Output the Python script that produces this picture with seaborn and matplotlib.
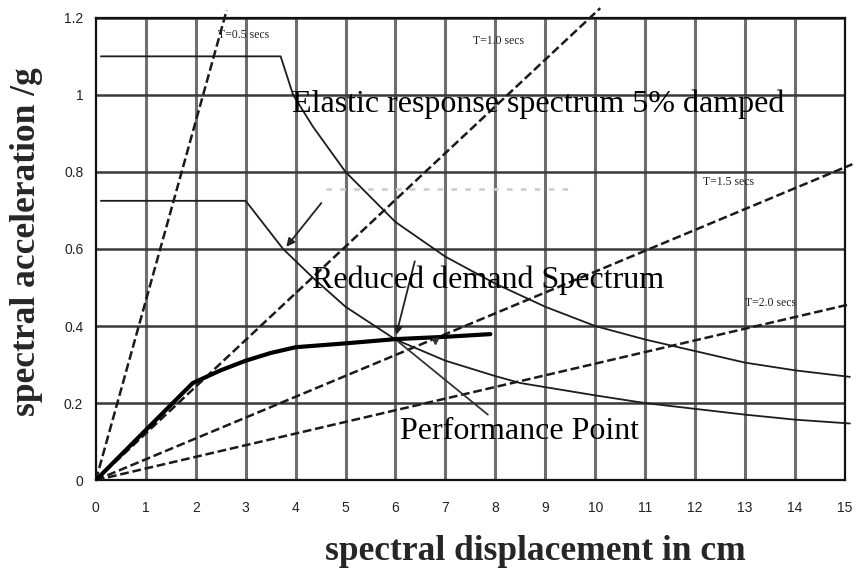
import matplotlib
matplotlib.use("Agg")
import matplotlib.pyplot as plt
import seaborn as sns
import pandas as pd

# ---- data ----
elastic_sd = [0.1, 3.7, 3.95, 4.35, 5.0, 6.0, 7.0, 8.0, 9.0, 10.0, 11.0, 12.0, 13.0, 14.0, 15.1]
elastic_sa = [1.1, 1.1, 1.0, 0.917, 0.80, 0.67, 0.58, 0.51, 0.45, 0.40, 0.365, 0.335, 0.305, 0.285, 0.268]

reduced_sd = [0.1, 3.0, 3.75, 4.35, 5.0, 6.0, 7.0, 8.0, 8.5, 10.0, 11.0, 12.0, 13.0, 14.0, 15.1]
reduced_sa = [0.725, 0.725, 0.60, 0.525, 0.45, 0.365, 0.31, 0.27, 0.252, 0.22, 0.20, 0.185, 0.17, 0.157, 0.147]

capacity_sd = [0.0, 1.0, 1.94, 2.5, 3.0, 3.5, 4.0, 5.0, 6.0, 7.0, 7.9]
capacity_sa = [0.0, 0.13, 0.252, 0.285, 0.31, 0.33, 0.345, 0.355, 0.366, 0.372, 0.379]

period_labels = ["T=0.5 secs", "T=1.0 secs", "T=1.5 secs", "T=2.0 secs"]
period_end_sd = [2.62, 10.1, 15.15, 15.05]
period_end_sa = [1.22, 1.225, 0.82, 0.455]
period_label_sd = [2.45, 7.55, 12.15, 13.0]
period_label_sa = [1.155, 1.14, 0.775, 0.46]

x_ticks = list(range(0, 16))
y_ticks = [0, 0.2, 0.4, 0.6, 0.8, 1.0, 1.2]
y_tick_labels = ["0", "0.2", "0.4", "0.6", "0.8", "1", "1.2"]

# ---- figure ----
sns.set_style("white")
plt.rcParams["font.family"] = ["Liberation Serif", "DejaVu Serif"]
fig = plt.figure(figsize=(8.56, 5.75), dpi=100)
ax = fig.add_axes([0.112, 0.165, 0.875, 0.804])

# grid
for xv in x_ticks[1:]:
    ax.axvline(xv, color="#6e6e6e", lw=2.2, zorder=1)
for yv in y_ticks[1:]:
    ax.axhline(yv, color="#3a3a3a", lw=1.8, zorder=1)

# period lines (radial dashed)
for i, lab in enumerate(period_labels):
    df = pd.DataFrame({"sd": [0.0, period_end_sd[i]], "sa": [0.0, period_end_sa[i]]})
    sns.lineplot(data=df, x="sd", y="sa", ax=ax, color="#1a1a1a", lw=1.8,
                 linestyle=(0, (3.5, 1.5)), clip_on=False, zorder=3)
    ax.text(period_label_sd[i], period_label_sa[i], lab, fontsize=8.5,
            ha="left", va="center", color="#222222", zorder=4)

# faint dotted line
ax.plot([4.6, 9.6], [0.755, 0.755], color="#cfcfcf", lw=2, ls=(0, (2, 3)), zorder=2)

# spectra
sns.lineplot(data=pd.DataFrame({"sd": elastic_sd, "sa": elastic_sa}), x="sd", y="sa",
             ax=ax, color="#1c1c1c", lw=1.3, clip_on=False, zorder=3)
sns.lineplot(data=pd.DataFrame({"sd": reduced_sd, "sa": reduced_sa}), x="sd", y="sa",
             ax=ax, color="#1c1c1c", lw=1.3, clip_on=False, zorder=3)
sns.lineplot(data=pd.DataFrame({"sd": capacity_sd, "sa": capacity_sa}), x="sd", y="sa",
             ax=ax, color="#000000", lw=3.0, zorder=5)

# arrows / pointers
ax.annotate("", xy=(3.78, 0.6), xytext=(4.55, 0.725),
            arrowprops=dict(arrowstyle="-|>", color="#222", lw=1.3, mutation_scale=12), zorder=6)
ax.annotate("", xy=(6.0, 0.37), xytext=(6.4, 0.575),
            arrowprops=dict(arrowstyle="-|>", color="#222", lw=1.3, mutation_scale=12), zorder=6)
ax.plot([6.05, 7.85], [0.36, 0.17], color="#333", lw=1.3, zorder=6)
ax.plot([6.8], [0.36], marker="v", color="#333", ms=5, zorder=6)

# annotations
ax.text(3.93, 0.975, "Elastic response spectrum 5% damped", fontsize=23,
        ha="left", va="center", color="black", zorder=7)
ax.text(4.33, 0.52, "Reduced demand Spectrum", fontsize=23,
        ha="left", va="center", color="black", zorder=7)
ax.text(6.09, 0.125, "Performance Point", fontsize=23,
        ha="left", va="center", color="black", zorder=7)

# axes
ax.set_xlim(0, 15)
ax.set_ylim(0, 1.2)
ax.set_xticks(x_ticks)
ax.set_xticklabels([str(v) for v in x_ticks], family="Liberation Sans", fontsize=10, color="#222")
ax.set_yticks(y_ticks)
ax.set_yticklabels(y_tick_labels, family="Liberation Sans", fontsize=10, color="#222")
ax.tick_params(axis="both", direction="out", length=5, width=1.2, color="#222", pad=10)
ax.tick_params(axis="y", pad=4)
for s in ax.spines.values():
    s.set_color("#111")
    s.set_linewidth(1.6)
ax.set_xlabel("")
ax.set_ylabel("")

fig.text(0.625, 0.040, "spectral displacement in cm", fontsize=25.5, fontweight="bold",
         ha="center", va="center")
fig.text(0.031, 0.579, "spectral acceleration /g", fontsize=25.5, fontweight="bold",
         ha="center", va="center", rotation=90)

fig.savefig("out.png", dpi=100)
